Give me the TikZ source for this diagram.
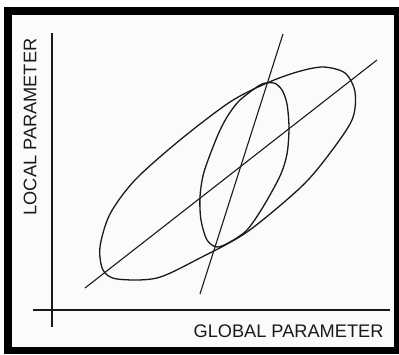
\documentclass[tikz,border=0pt]{standalone}
\usepackage{fontspec}
\setmainfont{Liberation Sans}
\usetikzlibrary{positioning}
\definecolor{tinta}{HTML}{1A1A1A}
\definecolor{papel}{HTML}{FBFBFB}
\definecolor{marco}{HTML}{000000}

\begin{document}
\begin{tikzpicture}[x=1pt,y=1pt,
      eje/.style={draw=tinta,line width=1.8pt},
      curva/.style={draw=tinta,line width=1.3pt,line join=round},
      recta/.style={draw=tinta,line width=1.1pt},
      rotulo/.style={font=\fontsize{18.2}{19}\selectfont,inner sep=0pt,text=tinta}]
    \useasboundingbox (0,0) rectangle (399,354);
    \fill[marco] (4,0) rectangle (399,347);
    \fill[papel] (12,7) rectangle (394,339);
    % ejes
    \coordinate (y0) at (52,27);
    \coordinate (y1) at (52,321);
    \coordinate (x0) at (33,44);
    \coordinate (x1) at (390,44);
    \draw[eje] (y0) -- (y1);
    \draw[eje] (x0) -- (x1);
    \node[rotulo,rotate=90] (local) at (30,227) {LOCAL PARAMETER};
    \node[rotulo] (global) at (288.5,23) {GLOBAL PARAMETER};
    % elipse grande, a mano
    \draw[curva] plot[smooth cycle] coordinates {
      (230,252) (267,271) (297,282) (323,287) (345,281) (355,262)
      (352,234) (327,197) (300,166) (247,122) (200,96) (157,76)
      (117,75) (103,84) (100,107) (110,140) (135,174) (180,214)};
    % elipse chica
    \draw[curva] plot[smooth cycle] coordinates {
      (250,262) (262,270) (274,271) (282,264) (287,250) (289,226)
      (287,200) (280,178) (263,147) (247,124) (230,112) (217,107)
      (207,114) (201,134) (200,157) (204,182) (217,217) (227,237)
      (238,252)};
    % rectas
    \coordinate (a0) at (85,66);
    \coordinate (a1) at (377,294);
    \coordinate (b0) at (200,60);
    \coordinate (b1) at (283,320);
    \draw[recta] (a0) -- (a1);
    \draw[recta] (b0) -- (b1);
  \end{tikzpicture}
\end{document}
